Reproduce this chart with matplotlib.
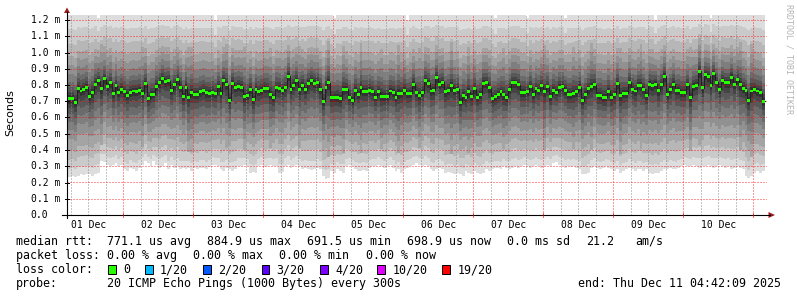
#!/usr/bin/env python3

import numpy as np
import matplotlib
matplotlib.use('Agg')
from matplotlib import pyplot as plt
from matplotlib.patches import Rectangle, Polygon
from matplotlib.lines import Line2D

W, H = 797, 297

# hourly median rtt in ms, first column is Dec 01 05:00
median = [
    0.714, 0.714, 0.691, 0.780, 0.763, 0.773, 0.786, 0.732, 0.753, 0.806,
    0.825, 0.777, 0.837, 0.792, 0.814, 0.749, 0.794, 0.753, 0.775, 0.757,
    0.736, 0.755, 0.763, 0.759, 0.769, 0.749, 0.808, 0.716, 0.740, 0.744,
    0.792, 0.814, 0.841, 0.820, 0.826, 0.765, 0.800, 0.831, 0.786, 0.728,
    0.786, 0.726, 0.755, 0.742, 0.742, 0.757, 0.765,
    0.751, 0.749, 0.755, 0.747, 0.788, 0.747, 0.825, 0.802, 0.706, 0.812,
    0.784, 0.792, 0.786, 0.728, 0.736, 0.775, 0.708, 0.775, 0.757, 0.767,
    0.780, 0.777, 0.742, 0.720, 0.784, 0.780, 0.767, 0.784, 0.855, 0.775,
    0.798, 0.825, 0.773, 0.798, 0.771, 0.810, 0.829, 0.812, 0.816, 0.775,
    0.700, 0.786, 0.814, 0.720, 0.724, 0.724, 0.716, 0.773,
    0.773, 0.724, 0.704, 0.769, 0.744, 0.782, 0.761, 0.761, 0.769, 0.757,
    0.724, 0.757, 0.732, 0.728, 0.728, 0.763, 0.755, 0.724, 0.749, 0.749,
    0.769, 0.747, 0.749, 0.806, 0.751, 0.734, 0.753, 0.826, 0.810, 0.763,
    0.769, 0.845, 0.806, 0.816, 0.757, 0.769, 0.794, 0.769, 0.775, 0.695,
    0.734, 0.720, 0.757, 0.730, 0.777, 0.726, 0.744, 0.812,
    0.814, 0.784, 0.716, 0.728, 0.742, 0.757, 0.740, 0.724, 0.773, 0.814,
    0.814, 0.802, 0.753, 0.753, 0.757, 0.790, 0.740, 0.777, 0.765, 0.794,
    0.757, 0.788, 0.730, 0.769, 0.755, 0.786, 0.788, 0.769, 0.740, 0.740,
    0.749, 0.757, 0.786, 0.704, 0.744, 0.777, 0.790, 0.802, 0.738, 0.738,
    0.724, 0.724, 0.761, 0.726, 0.742, 0.808, 0.736, 0.749,
    0.749, 0.816, 0.775, 0.763, 0.798, 0.796, 0.775, 0.736, 0.804, 0.796,
    0.806, 0.765, 0.802, 0.855, 0.744, 0.775, 0.806, 0.765, 0.769, 0.753,
    0.753, 0.800, 0.726, 0.792, 0.798, 0.884, 0.782, 0.862, 0.853, 0.798,
    0.868, 0.816, 0.773, 0.829, 0.814, 0.814, 0.849, 0.806, 0.831, 0.800,
    0.780, 0.765, 0.704, 0.763, 0.773, 0.763, 0.753, 0.699,
]

# fastest ping of each hour (bottom of the smoke), ms
lo = [
    0.236, 0.240, 0.235, 0.240, 0.250, 0.245, 0.250, 0.255, 0.240, 0.250,
    0.260, 0.330, 0.325, 0.310, 0.300, 0.310, 0.320, 0.300, 0.310, 0.280,
    0.270, 0.290, 0.280, 0.270, 0.290, 0.310, 0.330, 0.320, 0.300, 0.330,
    0.310, 0.290, 0.300, 0.320, 0.280, 0.310, 0.290, 0.300, 0.280, 0.290,
    0.280, 0.290, 0.270, 0.290, 0.280, 0.290, 0.290,
    0.280, 0.295, 0.310, 0.310, 0.300, 0.280, 0.270, 0.290, 0.280, 0.270,
    0.285, 0.300, 0.300, 0.310, 0.300, 0.260, 0.265, 0.260, 0.300, 0.310,
    0.295, 0.300, 0.310, 0.300, 0.300, 0.260, 0.265, 0.300, 0.310, 0.290,
    0.300, 0.310, 0.300, 0.280, 0.290, 0.280, 0.275, 0.280, 0.290, 0.280,
    0.240, 0.220, 0.225, 0.270, 0.260, 0.280, 0.270, 0.260,
    0.300, 0.310, 0.300, 0.280, 0.270, 0.270, 0.275, 0.270, 0.290, 0.300,
    0.300, 0.310, 0.300, 0.290, 0.300, 0.310, 0.290, 0.270, 0.280, 0.260,
    0.280, 0.290, 0.300, 0.310, 0.320, 0.310, 0.300, 0.310, 0.300, 0.280,
    0.270, 0.280, 0.290, 0.280, 0.260, 0.265, 0.260, 0.250, 0.260, 0.250,
    0.240, 0.270, 0.260, 0.250, 0.270, 0.260, 0.250, 0.260,
    0.280, 0.270, 0.280, 0.290, 0.290, 0.280, 0.300, 0.290, 0.280, 0.290,
    0.300, 0.290, 0.300, 0.310, 0.300, 0.290, 0.300, 0.310, 0.300, 0.290,
    0.300, 0.310, 0.300, 0.320, 0.325, 0.310, 0.300, 0.290, 0.300, 0.295,
    0.300, 0.290, 0.280, 0.250, 0.255, 0.260, 0.290, 0.300, 0.290, 0.280,
    0.290, 0.300, 0.290, 0.280, 0.270, 0.280, 0.260, 0.270,
    0.280, 0.290, 0.280, 0.270, 0.280, 0.280, 0.270, 0.280, 0.260, 0.250,
    0.260, 0.260, 0.270, 0.280, 0.280, 0.290, 0.280, 0.280, 0.290, 0.300,
    0.310, 0.300, 0.300, 0.310, 0.300, 0.290, 0.300, 0.300, 0.310, 0.300,
    0.290, 0.300, 0.310, 0.300, 0.290, 0.300, 0.280, 0.290, 0.300, 0.290,
    0.280, 0.240, 0.230, 0.240, 0.260, 0.270, 0.260, 0.270,
]

# slowest ping of each hour, mostly above the top of the graph
hi_default = 1.25
hi_notch = {10: 1.21, 50: 1.20, 91: 1.21, 116: 1.20, 146: 1.21,
            157: 1.21, 170: 1.21, 201: 1.20, 220: 1.21}

# hours whose inner smoke reaches further (darker vertical streaks)
streak = {11: 1.2, 25: 1.15, 41: 1.2, 42: 1.15, 54: 1.15, 60: 1.2, 69: 1.15,
          79: 1.15, 89: 1.2, 94: 1.15, 100: 1.2, 107: 1.15, 113: 1.2,
          120: 1.15, 131: 1.2, 137: 1.15, 149: 1.15, 163: 1.2, 173: 1.15,
          179: 1.2, 189: 1.15, 196: 1.15, 213: 1.2, 216: 1.15, 230: 1.2,
          234: 1.2}

# share of the median->extreme distance reached by each smoke layer
frac_up = [1.0, 0.80, 0.63, 0.49, 0.39, 0.29, 0.20, 0.14, 0.08, 0.04]
frac_dn = [1.0, 0.90, 0.78, 0.66, 0.52, 0.40, 0.30, 0.20, 0.12, 0.06]

day_labels = ['01 Dec', '02 Dec', '03 Dec', '04 Dec', '05 Dec',
              '06 Dec', '07 Dec', '08 Dec', '09 Dec', '10 Dec']
y_ticks = [0.0, 0.1, 0.2, 0.3, 0.4, 0.5, 0.6, 0.7, 0.8, 0.9, 1.0, 1.1, 1.2]

loss_labels = ['0', '1/20', '2/20', '3/20', '4/20', '10/20', '19/20']
loss_colors = ['#26ff00', '#00b8ff', '#0059ff', '#5e00ff', '#7e00ff',
               '#dd00ff', '#ff0000']

t_start, t_end = 4.7, 244.7   # hours after Dec 01 00:00
first_hour = 5

MONO = 'DejaVu Sans Mono'
plt.rcParams['lines.scale_dashes'] = False


def fx(px):
    return px / W


def fy(py):
    return 1 - py / H


def draw_smoke(ax, med, low, high, spread):
    edges = np.arange(first_hour, first_hour + len(med) + 1)
    prev_u = np.ones_like(med)
    prev_d = np.ones_like(med)
    for i, (fu, fd) in enumerate(zip(frac_up, frac_dn)):
        g = (221 - 19 * i) / 255
        s = spread if i >= 3 else 1.0
        cu = np.minimum(fu * s, prev_u)
        cd = np.minimum(fd * s, prev_d)
        prev_u, prev_d = cu, cd
        top = med + cu * (high - med)
        bot = med - cd * (med - low)
        ax.fill_between(edges, np.append(bot, bot[-1]), np.append(top, top[-1]),
                        step='post', color=(g, g, g), linewidth=0,
                        antialiased=False, zorder=1)
    return edges


def draw_grid(ax):
    dot = (0, (1.44, 1.44))
    kw = dict(lw=0.72, ls=dot, antialiased=False, zorder=2)
    for h in range(6, 246, 6):
        if h % 24:
            ax.axvline(h, color=(0.55, 0.55, 0.55, 0.5), **kw)
    for h in range(24, 246, 24):
        ax.axvline(h, color=(1, 0, 0, 0.4), **kw)
    for v in y_ticks[1:]:
        ax.axhline(v, color=(1, 0, 0, 0.4), **kw)


def draw_median(ax, edges, med):
    sw = 0.0092
    ax.step(edges, np.append(med, med[-1]), where='post', color='#202020',
            lw=0.72, zorder=3)
    ax.bar(edges[:-1], 2 * sw, bottom=med - sw, width=1, align='edge',
           color=loss_colors[0], linewidth=0, zorder=4)


def draw_axes_lines(fig):
    ax_col = '#000000'
    arrow = '#9b1b1b'
    fig.add_artist(Line2D([fx(62), fx(770)], [fy(215), fy(215)],
                          color=ax_col, lw=0.8))
    fig.add_artist(Line2D([fx(67), fx(67)], [fy(218), fy(12)],
                          color=ax_col, lw=0.8))
    fig.add_artist(Polygon([(fx(64), fy(13)), (fx(70), fy(13)), (fx(67), fy(7.5))],
                           closed=True, color=arrow, lw=0))
    fig.add_artist(Polygon([(fx(768.5), fy(212)), (fx(768.5), fy(218)),
                            (fx(775), fy(215))], closed=True, color=arrow, lw=0))
    for v in y_ticks:
        py = 215 - v * 162.5
        fig.add_artist(Line2D([fx(65), fx(69)], [fy(py), fy(py)],
                              color=ax_col, lw=0.72))
    for h in range(24, 246, 24):
        px = 67 + (h - t_start) * 700 / (t_end - t_start)
        fig.add_artist(Line2D([fx(px), fx(px)], [fy(213), fy(217)],
                              color=(1, 0, 0, 0.6), lw=0.72))


def draw_labels(fig, ax):
    for v in y_ticks:
        s = '0.0' if v == 0 else f'{v:.1f} m'
        fig.text(fx(30.5), fy(215 - v * 162.5), s, family=MONO, fontsize=7,
                 ha='left', va='center')
    for d, lab in enumerate(day_labels):
        px = 67 + (12 + 24 * d - t_start) * 700 / (t_end - t_start)
        fig.text(fx(px), fy(220.5), lab, family=MONO, fontsize=7,
                 ha='center', va='top')
    fig.text(fx(10.5), fy(113), 'Seconds', family='DejaVu Sans', fontsize=8,
             rotation=90, ha='center', va='center')
    fig.text(fx(788.5), fy(4.5), 'RRDTOOL / TOBI OETIKER', family=MONO,
             fontsize=6, color='#b4b4b4', rotation=270, ha='center', va='top')


def draw_legend(fig):
    fs = 8.4
    rows = [
        (245, [(16, 'median rtt:'), (107, '771.1 us avg'), (207, '884.9 us max'),
               (307, '691.5 us min'), (407, '698.9 us now'),
               (507, '0.0 ms sd'), (586, '21.2'), (635, 'am/s')]),
        (259.3, [(16, 'packet loss:'), (107, '0.00 % avg'), (193, '0.00 % max'),
                 (279, '0.00 % min'), (366, '0.00 % now')]),
        (273.3, [(16, 'loss color:')]),
        (287.3, [(16, 'probe:'),
                 (107, '20 ICMP Echo Pings (1000 Bytes) every 300s'),
                 (578, 'end: Thu Dec 11 04:42:09 2025')]),
    ]
    for base, parts in rows:
        for px, s in parts:
            fig.text(fx(px), fy(base), s, family=MONO, fontsize=fs,
                     ha='left', va='baseline')
    box_x = [108.3, 145, 203.3, 261.7, 320, 377.3, 442.3]
    for bx, lab, col in zip(box_x, loss_labels, loss_colors):
        fig.add_artist(Rectangle((fx(bx), fy(273.5)), 7.7 / W, 8.2 / H,
                                 facecolor=col, edgecolor='black', lw=0.72))
        fig.text(fx(bx + 15), fy(273.3), lab, family=MONO, fontsize=fs,
                 ha='left', va='baseline')


def main():
    fig = plt.figure(figsize=(W / 100, H / 100), dpi=100)
    fig.patch.set_facecolor('white')
    ax = fig.add_axes([fx(67), fy(215), 700 / W, (215 - 15.1) / H])
    ax.set_xlim(t_start, t_end)
    ax.set_ylim(0, 1.23)
    ax.set_axis_off()

    med = np.array(median)
    low = np.array(lo)
    n = len(med)
    high = np.array([hi_notch.get(k, hi_default) for k in range(n)])
    spread = np.array([streak.get(k, 1.0) for k in range(n)])

    edges = draw_smoke(ax, med, low, high, spread)
    draw_grid(ax)
    draw_median(ax, edges, med)
    draw_axes_lines(fig)
    draw_labels(fig, ax)
    draw_legend(fig)

    fig.savefig('out.png', dpi=100)


if __name__ == '__main__':
    main()
